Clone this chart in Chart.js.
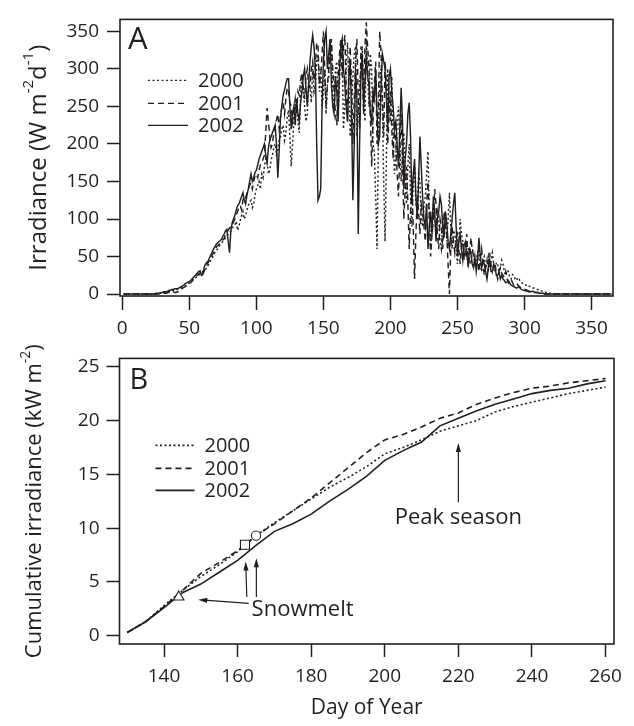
<!DOCTYPE html>
<html>
<head>
<meta charset="utf-8">
<script src="https://cdn.jsdelivr.net/npm/chart.js@4.4.0/dist/chart.umd.min.js"></script>
<style>
  html, body { margin: 0; padding: 0; background: #fff; }
  #wrap { position: relative; width: 634px; height: 726px; }
  #ChartA { position: absolute; left: 0; top: 0; }
  #ChartB { position: absolute; left: 0; top: 340px; }
</style>
</head>
<body>
<div id="wrap">
  <canvas id="ChartA" width="634" height="340"></canvas>
  <canvas id="ChartB" width="634" height="386"></canvas>
</div>
<script>
// ---- data: panel A, daily irradiance (W m-2 d-1) ----
const years = ['2000', '2001', '2002'];
const firstDayA = 1, lastDayA = 365;
const startDayA = 24, stepDayA = 1;   // one value per day, days 24..323
const irr2000 = [
  0, 0, 0, 0, 1, 1, 1, 2, 2, 2, 3, 3, 4, 4, 5, 5, 6, 6, 7, 7,
  8, 9, 10, 11, 12, 13, 15, 16, 18, 19, 20, 22, 24, 25, 27, 28, 30, 31, 33, 35,
  38, 42, 45, 48, 52, 55, 58, 60, 63, 66, 68, 70, 72, 75, 78, 80, 82, 84, 88, 90,
  92, 97, 85, 90, 98, 104, 110, 100, 105, 112, 118, 122, 125, 115, 120, 132, 140, 145, 150, 140,
  160, 155, 170, 180, 175, 160, 165, 178, 185, 195, 200, 185, 190, 205, 210, 220, 225, 205, 215, 235,
  245, 210, 170, 200, 230, 255, 260, 230, 215, 265, 290, 270, 250, 230, 240, 285, 275, 255, 300, 270,
  280, 310, 320, 270, 300, 250, 265, 300, 240, 280, 290, 340, 330, 260, 250, 300, 310, 240, 280, 330,
  320, 220, 250, 300, 335, 280, 210, 250, 290, 320, 330, 210, 240, 280, 300, 330, 270, 230, 340, 290,
  250, 320, 300, 200, 190, 130, 60, 200, 280, 300, 250, 150, 70, 180, 300, 260, 230, 290, 210, 160,
  180, 230, 250, 200, 150, 190, 215, 160, 120, 170, 200, 130, 90, 150, 170, 120, 110, 160, 150, 100,
  90, 120, 130, 160, 190, 110, 60, 90, 120, 100, 80, 110, 100, 70, 60, 95, 90, 110, 70, 100,
  135, 90, 60, 85, 80, 60, 40, 70, 100, 80, 70, 55, 50, 65, 60, 45, 40, 60, 55, 40,
  45, 55, 60, 40, 30, 45, 50, 35, 40, 50, 35, 45, 55, 40, 30, 42, 40, 30, 35, 45,
  40, 30, 25, 32, 30, 22, 20, 26, 25, 20, 18, 22, 20, 16, 15, 14, 12, 12, 10, 11,
  10, 9, 8, 8, 7, 6, 6, 5, 4, 4, 3, 3, 2, 2, 1, 1, 1, 0, 0, 0
];
const irr2001 = [
  0, 0, 0, 0, 0, 0, 1, 1, 1, 1, 2, 2, 3, 3, 3, 2, 2, 3, 3, 4,
  6, 8, 9, 10, 11, 12, 14, 15, 17, 20, 22, 23, 25, 27, 28, 30, 26, 30, 35, 38,
  42, 45, 48, 52, 55, 58, 62, 64, 66, 68, 70, 72, 74, 80, 83, 85, 88, 90, 92, 96,
  100, 105, 110, 115, 118, 112, 125, 130, 128, 135, 140, 145, 148, 140, 150, 158, 160, 155, 165, 172,
  175, 180, 185, 215, 248, 230, 210, 195, 200, 215, 225, 232, 240, 220, 235, 250, 255, 240, 260, 275,
  270, 255, 250, 230, 245, 260, 240, 270, 265, 285, 295, 275, 260, 290, 300, 280, 275, 300, 310, 285,
  305, 335, 330, 280, 290, 320, 350, 300, 250, 280, 300, 325, 340, 300, 270, 240, 225, 290, 320, 340,
  290, 330, 345, 270, 230, 300, 330, 280, 200, 260, 310, 340, 260, 220, 330, 300, 240, 330, 362, 330,
  300, 240, 170, 230, 280, 310, 200, 250, 350, 320, 260, 210, 310, 280, 200, 240, 270, 220, 180, 230,
  200, 160, 130, 190, 240, 180, 100, 140, 170, 120, 60, 110, 150, 90, 20, 80, 130, 110, 80, 120,
  110, 90, 70, 120, 150, 100, 50, 80, 100, 140, 120, 80, 60, 100, 90, 60, 110, 90, 80, 40,
  0, 60, 90, 70, 55, 75, 80, 60, 40, 65, 70, 45, 60, 80, 35, 50, 75, 60, 50, 40,
  40, 50, 30, 45, 60, 40, 25, 35, 45, 30, 55, 40, 30, 38, 40, 28, 20, 30, 35, 28,
  25, 22, 30, 20, 15, 18, 20, 15, 12, 14, 15, 12, 10, 9, 8, 7, 6, 6, 5, 4,
  4, 4, 3, 3, 2, 2, 2, 1, 1, 1, 1, 0, 0, 0, 0, 0, 0, 0, 0, 0
];
const irr2002 = [
  0, 1, 1, 1, 1, 2, 2, 3, 3, 3, 4, 5, 5, 6, 6, 7, 7, 7, 8, 9,
  10, 11, 12, 14, 15, 16, 17, 18, 20, 22, 24, 26, 28, 30, 31, 25, 27, 35, 40, 42,
  44, 48, 52, 56, 60, 63, 66, 68, 70, 71, 73, 77, 80, 84, 86, 70, 55, 85, 95, 100,
  105, 112, 118, 120, 125, 130, 135, 125, 120, 132, 140, 150, 160, 150, 155, 162, 165, 172, 180, 185,
  190, 195, 200, 185, 175, 195, 205, 210, 215, 220, 225, 200, 155, 190, 235, 250, 265, 272, 280, 287,
  287, 250, 220, 240, 250, 225, 260, 240, 230, 255, 270, 290, 300, 275, 250, 280, 310, 330, 345, 330,
  300, 200, 125, 130, 140, 250, 310, 340, 350, 300, 320, 340, 280, 250, 240, 290, 270, 230, 300, 330,
  340, 300, 280, 250, 230, 290, 310, 240, 125, 200, 300, 260, 80, 200, 290, 320, 250, 280, 320, 290,
  280, 240, 230, 270, 260, 300, 240, 200, 210, 280, 320, 310, 300, 260, 220, 290, 300, 270, 250, 220,
  230, 200, 170, 220, 275, 230, 140, 180, 200, 240, 255, 210, 120, 160, 180, 130, 100, 150, 210, 170,
  130, 100, 90, 120, 60, 90, 110, 80, 130, 110, 70, 100, 110, 130, 120, 90, 75, 110, 95, 70,
  60, 80, 100, 120, 135, 90, 50, 70, 80, 60, 45, 65, 70, 50, 40, 60, 55, 40, 35, 50,
  30, 45, 75, 50, 35, 45, 40, 30, 20, 35, 45, 30, 30, 40, 35, 25, 25, 30, 20, 25,
  20, 18, 15, 16, 18, 14, 12, 11, 10, 9, 8, 9, 10, 7, 6, 5, 5, 4, 4, 3,
  3, 3, 4, 3, 2, 2, 2, 1, 1, 1, 1, 0, 0, 0, 0, 0, 0, 0, 0, 0
];
const xTicksA = [0, 50, 100, 150, 200, 250, 300, 350];
const yTicksA = [0, 50, 100, 150, 200, 250, 300, 350];

// ---- data: panel B, cumulative irradiance (kW m-2) ----
const daysB = [130, 135, 140, 145, 150, 155, 160, 165, 170, 175, 180, 185, 190, 195,
               200, 205, 210, 215, 220, 225, 230, 235, 240, 245, 250, 255, 260];
const cum2000 = [0.3, 1.3, 2.8, 4.2, 5.5, 6.6, 7.8, 9.3, 10.5, 11.6, 12.7, 13.8, 14.7, 15.7,
                 16.9, 17.5, 18.2, 19.0, 19.5, 20.0, 20.8, 21.3, 21.7, 22.1, 22.5, 22.8, 23.1];
const cum2001 = [0.3, 1.3, 2.7, 4.2, 5.8, 6.8, 7.9, 9.3, 10.4, 11.6, 12.8, 14.2, 15.6, 17.0,
                 18.2, 18.7, 19.4, 20.2, 20.7, 21.5, 22.1, 22.6, 23.0, 23.2, 23.5, 23.7, 23.9];
const cum2002 = [0.3, 1.3, 2.6, 4.0, 4.8, 5.9, 7.0, 8.4, 9.7, 10.4, 11.3, 12.5, 13.6, 14.8,
                 16.3, 17.2, 18.0, 19.5, 20.2, 20.9, 21.5, 22.0, 22.5, 22.8, 23.0, 23.4, 23.7];
const snowmeltDay = [165, 162, 144];       // 2000, 2001, 2002
const snowmeltCum = [9.3, 8.45, 3.6];
const xTicksB = [140, 160, 180, 200, 220, 240, 260];
const yTicksB = [0, 5, 10, 15, 20, 25];

// annotations for panel B, in data units
const arrowsB = [
  { from: [163.0, 3.0], to: [149.3, 3.35] },
  { from: [162.5, 3.6], to: [162.2, 6.9] },
  { from: [165.1, 3.6], to: [165.1, 7.2] },
  { from: [220.0, 12.4], to: [220.0, 17.9] }
];
const labelsB = [
  { text: 'Snowmelt', x: 163.8, y: 2.4, align: 'left' },
  { text: 'Peak season', x: 220, y: 10.95, align: 'center' }
];

// ---- styling ----
const family = '"Open Sans", sans-serif';
const ink = '#231f20';
const dashes = [[2, 2.5], [6, 4], []];
const markerStyles = ['circle', 'rect', 'triangle'];
const markerRadius = [4.6, 6.4, 6];

Initialize();

function Initialize()
{
    Chart.defaults.font.family = family;
    Chart.defaults.color = ink;

    const seriesA = [irr2000, irr2001, irr2002];
    const seriesB = [cum2000, cum2001, cum2002];

    function toPointsA(vals)
    {
        const pts = [{ x: firstDayA, y: 0 }];
        vals.forEach((v, i) => pts.push({ x: startDayA + i * stepDayA, y: v }));
        pts.push({ x: lastDayA, y: 0 });
        return pts;
    }

    function fixedTicks(list) {
        return scale => { scale.ticks = list.map(v => ({ value: v })); };
    }

    function drawTitle(ctx, parts, cx, cy, size)
    {
        // rotated axis title with superscripts
        const supSize = Math.round(size * 0.62);
        ctx.save();
        let total = 0;
        parts.forEach(p => {
            ctx.font = (p.sup ? supSize : size) + 'px ' + family;
            p.w = ctx.measureText(p.t).width;
            total += p.w;
        });
        ctx.translate(cx, cy);
        ctx.rotate(-Math.PI / 2);
        ctx.fillStyle = ink;
        ctx.textBaseline = 'middle';
        ctx.textAlign = 'left';
        let x = -total / 2;
        parts.forEach(p => {
            ctx.font = (p.sup ? supSize : size) + 'px ' + family;
            ctx.fillText(p.t, x, p.sup ? -size * 0.42 : 0);
            x += p.w;
        });
        ctx.restore();
    }

    function Decor(o)
    {
        return {
            id: 'decor' + o.letter,
            afterDatasetsDraw(chart)
            {
                const ctx = chart.ctx, a = chart.chartArea;
                ctx.save();
                ctx.strokeStyle = ink;
                ctx.lineWidth = 1.6;
                ctx.strokeRect(a.left, a.top, a.right - a.left, a.bottom - a.top);

                ctx.fillStyle = ink;
                ctx.textBaseline = 'alphabetic';
                ctx.font = o.letterSize + 'px ' + family;
                ctx.fillText(o.letter, a.left + o.letterX, a.top + o.letterY);

                // legend
                ctx.font = o.legendSize + 'px ' + family;
                ctx.textBaseline = 'middle';
                years.forEach((yr, k) => {
                    const y = a.top + o.legendY[k];
                    ctx.beginPath();
                    ctx.setLineDash(dashes[k]);
                    ctx.lineWidth = o.lineWidth;
                    ctx.moveTo(a.left + o.legendX0, y);
                    ctx.lineTo(a.left + o.legendX1, y);
                    ctx.stroke();
                    ctx.setLineDash([]);
                    ctx.fillText(yr, a.left + o.legendText, y + 1);
                });
                ctx.restore();

                drawTitle(ctx, o.title, o.titleX, (a.top + a.bottom) / 2 + o.titleDy, o.titleSize);
            }
        };
    }

    function Annotate()
    {
        return {
            id: 'annotateB',
            afterDatasetsDraw(chart)
            {
                const ctx = chart.ctx, sx = chart.scales.x, sy = chart.scales.y;
                ctx.save();
                ctx.strokeStyle = ink;
                ctx.fillStyle = ink;
                ctx.lineWidth = 1.2;
                arrowsB.forEach(ar => {
                    const x1 = sx.getPixelForValue(ar.from[0]), y1 = sy.getPixelForValue(ar.from[1]);
                    const x2 = sx.getPixelForValue(ar.to[0]), y2 = sy.getPixelForValue(ar.to[1]);
                    const ang = Math.atan2(y2 - y1, x2 - x1), L = 9, W = 2.6;
                    const c = Math.cos(ang), s = Math.sin(ang);
                    ctx.beginPath();
                    ctx.moveTo(x1, y1);
                    ctx.lineTo(x2 - L * 0.7 * c, y2 - L * 0.7 * s);
                    ctx.stroke();
                    ctx.beginPath();
                    ctx.moveTo(x2, y2);
                    ctx.lineTo(x2 - L * c + W * s, y2 - L * s - W * c);
                    ctx.lineTo(x2 - L * c - W * s, y2 - L * s + W * c);
                    ctx.closePath();
                    ctx.fill();
                });
                ctx.font = '22px ' + family;
                ctx.textBaseline = 'middle';
                labelsB.forEach(lb => {
                    ctx.textAlign = lb.align;
                    ctx.fillText(lb.text, sx.getPixelForValue(lb.x), sy.getPixelForValue(lb.y));
                });
                ctx.restore();
            }
        };
    }

    const tickFont = { size: 19, family: family };

    // ---------- panel A ----------
    new Chart(document.getElementById('ChartA').getContext('2d'), {
        type: 'line',
        data: {
            datasets: years.map((yr, k) => ({
                label: yr,
                data: toPointsA(seriesA[k]),
                borderColor: ink,
                borderWidth: 1.45,
                borderDash: dashes[k],
                pointRadius: 0,
                tension: 0,
                order: 3 - k
            }))
        },
        options: {
            responsive: false,
            animation: false,
            layout: { padding: { left: 0, right: 21, top: 13, bottom: 0 } },
            plugins: { legend: { display: false }, tooltip: { enabled: false } },
            scales: {
                x: {
                    type: 'linear', min: -1.7, max: 366,
                    afterBuildTicks: fixedTicks(xTicksA),
                    afterFit: s => { s.height = 44; },
                    grid: { drawOnChartArea: false, tickLength: 14, tickWidth: 1.5, tickColor: ink },
                    border: { display: false },
                    ticks: { font: tickFont, color: ink, padding: 7, maxRotation: 0 }
                },
                y: {
                    type: 'linear', min: -2.6, max: 366,
                    afterBuildTicks: fixedTicks(yTicksA),
                    afterFit: s => { s.width = 120; },
                    grid: { drawOnChartArea: false, tickLength: 13, tickWidth: 1.5, tickColor: ink },
                    border: { display: false },
                    ticks: { font: tickFont, color: ink, padding: 8 }
                }
            }
        },
        plugins: [Decor({
            letter: 'A', letterSize: 31, letterX: 8, letterY: 30,
            legendSize: 20, legendX0: 28, legendX1: 68, legendText: 78,
            legendY: [61, 84, 106], lineWidth: 1.4,
            title: [{ t: 'Irradiance (W m' }, { t: '-2', sup: true }, { t: 'd' }, { t: '-1', sup: true }, { t: ')' }],
            titleX: 39, titleDy: 0, titleSize: 24
        })]
    });

    // ---------- panel B ----------
    const lineSets = years.map((yr, k) => ({
        label: yr,
        data: daysB.map((d, i) => ({ x: d, y: seriesB[k][i] })),
        borderColor: ink,
        borderWidth: 1.6,
        borderDash: dashes[k],
        pointRadius: 0,
        tension: 0,
        order: 3 - k
    }));
    const markerSets = years.map((yr, k) => ({
        label: 'Snowmelt ' + yr,
        data: [{ x: snowmeltDay[k], y: snowmeltCum[k] }],
        showLine: false,
        pointStyle: markerStyles[k],
        pointRadius: markerRadius[k],
        pointBackgroundColor: '#fff',
        pointBorderColor: ink,
        pointBorderWidth: 1.1,
        order: -1
    }));

    new Chart(document.getElementById('ChartB').getContext('2d'), {
        type: 'line',
        data: { datasets: lineSets.concat(markerSets) },
        options: {
            responsive: false,
            animation: false,
            layout: { padding: { left: 0, right: 20, top: 14, bottom: 0 } },
            plugins: { legend: { display: false }, tooltip: { enabled: false } },
            scales: {
                x: {
                    type: 'linear', min: 127.9, max: 262.3,
                    afterBuildTicks: fixedTicks(xTicksB),
                    afterFit: s => { s.height = 82; },
                    grid: { drawOnChartArea: false, tickLength: 13, tickWidth: 1.5, tickColor: ink },
                    border: { display: false },
                    ticks: { font: tickFont, color: ink, padding: 8, maxRotation: 0 },
                    title: { display: true, text: 'Day of Year', font: { size: 21, family: family }, color: ink, padding: { top: 0, bottom: 5 } }
                },
                y: {
                    type: 'linear', min: -0.77, max: 25.77,
                    afterBuildTicks: fixedTicks(yTicksB),
                    afterFit: s => { s.width = 119.5; },
                    grid: { drawOnChartArea: false, tickLength: 13, tickWidth: 1.5, tickColor: ink },
                    border: { display: false },
                    ticks: { font: tickFont, color: ink, padding: 7 }
                }
            }
        },
        plugins: [Decor({
            letter: 'B', letterSize: 29, letterX: 10, letterY: 31,
            legendSize: 20, legendX0: 36, legendX1: 75, legendText: 85,
            legendY: [87, 110, 132], lineWidth: 1.6,
            title: [{ t: 'Cumulative irradiance (kW m' }, { t: '-2', sup: true }, { t: ')' }],
            titleX: 35, titleDy: 0, titleSize: 22
        }), Annotate()]
    });
}
</script>
</body>
</html>
